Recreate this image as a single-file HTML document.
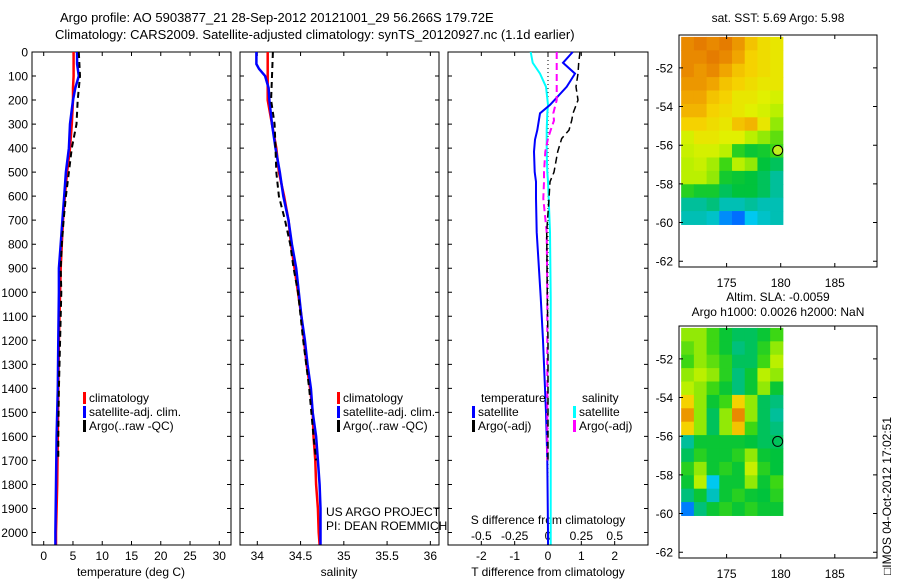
<!DOCTYPE html>
<html><head><meta charset="utf-8"><style>
body{margin:0;background:#fff;}
svg{display:block;font-family:"Liberation Sans",sans-serif;}
text{fill:#000;}
</style></head><body>
<svg id="chart" width="900" height="580" viewBox="0 0 900 580" xmlns="http://www.w3.org/2000/svg">
<text x="60" y="22" font-size="13">Argo profile: AO 5903877_21 28-Sep-2012 20121001_29 56.266S 179.72E</text>
<text x="55" y="39" font-size="13">Climatology: CARS2009. Satellite-adjusted climatology: synTS_20120927.nc (1.1d earlier)</text>
<text x="778" y="22" font-size="12" text-anchor="middle">sat. SST: 5.69 Argo: 5.98</text>
<text x="778" y="301" font-size="12" text-anchor="middle">Altim. SLA: -0.0059</text>
<text x="778" y="316" font-size="12" text-anchor="middle">Argo h1000: 0.0026 h2000: NaN</text>
<text transform="translate(891,575) rotate(-90)" font-size="12">□IMOS 04-Oct-2012 17:02:51</text>
<g id="g"></g>
</svg>
<script>
// depth levels (m)
const depT=[0,50,100,150,200,300,400,500,600,700,800,900,1000,1200,1400,1600,1800,2000,2050];
const tempClim=[5.1,5.1,5.1,5.0,5.0,4.8,4.5,4.0,3.6,3.3,3.1,2.9,2.8,2.6,2.5,2.4,2.3,2.1,2.1];
const tempSat=[5.7,5.7,6.0,5.4,5.0,4.5,4.3,3.8,3.5,3.2,2.9,2.6,2.6,2.5,2.4,2.2,2.1,2.0,2.0];
const depArgo=[0,100,200,300,400,500,600,700,800,900,1000,1200,1400,1600,1700];
const tempArgo=[6.0,6.2,5.8,5.6,4.8,4.3,3.8,3.4,3.1,2.9,3.0,2.8,2.6,2.5,2.5];
const depS=[0,50,70,100,150,200,300,400,500,600,700,800,900,1000,1100,1200,1300,1400,1500,1600,1700,1800,1900,2000,2050];
const salClim=[34.12,34.12,34.12,34.12,34.12,34.12,34.17,34.22,34.25,34.31,34.36,34.39,34.43,34.47,34.51,34.54,34.57,34.61,34.64,34.65,34.67,34.68,34.70,34.71,34.72];
const salSat=[33.99,33.99,34.02,34.09,34.13,34.14,34.17,34.21,34.26,34.30,34.36,34.40,34.45,34.48,34.51,34.55,34.58,34.62,34.64,34.68,34.70,34.72,34.73,34.73,34.73];
const salArgo=[34.18,34.17,34.16,34.20,34.21,34.22,34.25,34.32,34.38,34.42,34.47,34.53,34.60,34.65,34.68];
const depD=[0,45,90,145,220,255,325,365,415,500,540,610,750,1020,1200,1500,1700,2000,2050];
const dTsat=[0.74,0.45,0.81,0.56,0.06,-0.24,-0.32,-0.39,-0.42,-0.40,-0.36,-0.36,-0.34,-0.22,-0.15,-0.06,-0.02,0.0,0.0];
const dSsat=[-0.13,-0.115,-0.06,-0.015,0.0,-0.005,-0.01,-0.01,-0.01,-0.005,0.0,0.005,0.015,0.02,0.02,0.02,0.02,0.02,0.02];
const depDA=[0,45,90,145,200,255,285,325,360,415,500,540,610,750,1020,1200,1500,1700];
const dTargo=[0.96,0.92,0.9,0.84,0.9,0.75,0.71,0.63,0.41,0.29,0.18,0.06,0.03,-0.04,-0.02,0.0,0.0,0.0];
const dSargo=[0.065,0.065,0.065,0.065,0.065,0.04,0.045,0.02,0.0,-0.02,-0.03,-0.03,-0.035,-0.01,-0.005,-0.005,-0.005,-0.005];
const tempTicks=[0,5,10,15,20,25,30];
const salTicks=[34,34.5,35,35.5,36];
const tdTicks=[-2,-1,0,1,2];
const sdTicks=[-0.5,-0.25,0,0.25,0.5];
const sdLabels=["-0.5","-0.25","0","0.25","0.5"];
const depthTicks=[0,100,200,300,400,500,600,700,800,900,1000,1100,1200,1300,1400,1500,1600,1700,1800,1900,2000];
const latTicks=[-52,-54,-56,-58,-60,-62];
const lonTicks=[175,180,185];
const sstGrid=[
[.80,.82,.80,.82,.78,.72,.68,.66],[.80,.80,.82,.80,.76,.70,.68,.66],[.80,.78,.80,.76,.72,.70,.68,.66],
[.78,.78,.76,.72,.70,.68,.66,.66],[.76,.76,.72,.70,.66,.66,.64,.62],[.74,.74,.70,.68,.66,.64,.62,.58],
[.70,.70,.68,.66,.72,.74,.66,.55],[.62,.66,.66,.64,.64,.58,.55,.52],[.60,.62,.62,.58,.48,.45,.46,.50],
[.58,.60,.56,.50,.58,.55,.44,.42],[.58,.58,.55,.46,.45,.44,.42,.38],[.48,.46,.46,.42,.44,.44,.42,.38],
[.38,.38,.40,.36,.36,.38,.36,.36],[.36,.36,.34,.26,.24,.30,.34,.36]];
const slaGrid=[
[.55,.55,.50,.45,.42,.42,.45,.50],[.52,.55,.50,.45,.40,.42,.48,.55],[.50,.55,.52,.48,.42,.42,.50,.58],
[.55,.58,.55,.48,.40,.45,.58,.55],[.58,.55,.50,.45,.40,.45,.55,.45],[.70,.55,.45,.50,.70,.55,.42,.40],
[.78,.55,.42,.55,.80,.55,.42,.38],[.70,.55,.42,.55,.72,.50,.42,.40],[.38,.45,.45,.45,.45,.44,.42,.42],
[.42,.48,.45,.45,.48,.55,.45,.44],[.48,.55,.45,.48,.45,.60,.48,.44],[.45,.58,.30,.45,.45,.55,.45,.50],
[.40,.45,.35,.45,.48,.45,.44,.48],[.25,.40,.45,.48,.45,.48,.45,.45]];
const floatLon=179.72, floatLat=-56.27;

const NS="http://www.w3.org/2000/svg";
const G=document.getElementById('g');
function mk(tag,attrs,parent){const e=document.createElementNS(NS,tag);for(const k in attrs)e.setAttribute(k,attrs[k]);(parent||G).appendChild(e);return e;}
const TOP=52,BOT=545,DMAX=2052;
const yD=d=>TOP+(BOT-TOP)*d/DMAX;
const lin=(a,b,p,q)=>v=>p+(v-a)*(q-p)/(b-a);
const panels=[{x0:32,x1:231,sc:lin(-2,32,32,231)},{x0:240,x1:439,sc:lin(33.8,36.1,240,439)},{x0:448,x1:648,sc:lin(-3,3,448,648)}];
const sdSc=lin(-0.75,0.75,448,648);
panels.forEach((p,i)=>{
  const r=mk('rect',{x:p.x0,y:TOP,width:p.x1-p.x0,height:BOT-TOP,fill:'none',stroke:'#000','stroke-width':1});
  
  
  depthTicks.forEach(d=>{
    const t=mk('path',{d:`M${p.x0},${yD(d)}h4M${p.x1},${yD(d)}h-4`,stroke:'#000'});
    
    
  });
});
depthTicks.forEach(d=>{
  const t=mk('text',{x:28,y:yD(d)+4.5,'font-size':12,'text-anchor':'end'});t.textContent=d;
  
  
});
function xticks(p,ticks,labels,ly,sc){
  ticks.forEach((v,k)=>{
    const x=sc(v);
    const t=mk('path',{d:`M${x},${BOT}v-4M${x},${TOP}v4`,stroke:'#000'});
    
    
    if(labels){const l=mk('text',{x:x,y:ly,'font-size':12,'text-anchor':'middle'});l.textContent=labels[k];
    
    }
  });
}
xticks(panels[0],tempTicks,tempTicks.map(String),560,panels[0].sc);
xticks(panels[1],salTicks,salTicks.map(String),560,panels[1].sc);
xticks(panels[2],tdTicks,tdTicks.map(String),560,panels[2].sc);
sdTicks.forEach((v,k)=>{const l=mk('text',{x:sdSc(v),y:540,'font-size':12,'text-anchor':'middle'});l.textContent=sdLabels[k];
  
  });
[['temperature (deg C)',131,'temperature-axis-title'],['salinity',339,'salinity-axis-title'],['T difference from climatology',548,'t-diff-axis-title']].forEach(a=>{
  const l=mk('text',{x:a[1],y:576,'font-size':12,'text-anchor':'middle'});l.textContent=a[0];
  
  
});
const sdt=mk('text',{x:548,y:524,'font-size':12,'text-anchor':'middle'});sdt.textContent='S difference from climatology';


const zl=mk('path',{d:`M548,${TOP}V${BOT}`,stroke:'#000','stroke-dasharray':'1,3'});


function line(xs,ds,sc,color,name,dash,w){
  const pts=xs.map((v,k)=>sc(v).toFixed(1)+','+yD(ds[k]).toFixed(1)).join(' ');
  const a={points:pts,fill:'none',stroke:color,'stroke-width':w||2};if(dash)a['stroke-dasharray']=dash;
  const e=mk('polyline',a);
  
  
}
line(tempClim,depT,panels[0].sc,'#f00','temp-climatology-line',null,2.5);
line(tempSat,depT,panels[0].sc,'#00f','temp-satellite-line',null,2.5);
line(tempArgo,depArgo,panels[0].sc,'#000','temp-argo-line','6,4');
line(salClim,depS,panels[1].sc,'#f00','sal-climatology-line',null,2.5);
line(salSat,depS,panels[1].sc,'#00f','sal-satellite-line',null,2.5);
line(salArgo,depArgo,panels[1].sc,'#000','sal-argo-line','6,4');
line(dSsat,depD,sdSc,'#0ff','s-diff-satellite-line');
line(dTsat,depD,panels[2].sc,'#00f','t-diff-satellite-line');
line(dSargo,depDA,sdSc,'#f0f','s-diff-argo-line','7,4');
line(dTargo,depDA,panels[2].sc,'#000','t-diff-argo-line','7,4',1.5);
function legend(x,y,color,label,name){
  const b=mk('rect',{x:x,y:y-10,width:3,height:12,fill:color});
  
  
  const t=mk('text',{x:x+6,y:y,'font-size':12});t.textContent=label;
  
  
}
legend(83,402,'#f00','climatology','legend-climatology');
legend(83,416,'#00f','satellite-adj. clim.','legend-satellite-adj');
legend(83,430,'#000','Argo(..raw -QC)','legend-argo');
legend(337,402,'#f00','climatology','legend-sal-climatology');
legend(337,416,'#00f','satellite-adj. clim.','legend-sal-satellite-adj');
legend(337,430,'#000','Argo(..raw -QC)','legend-sal-argo');
const lt=mk('text',{x:481,y:402,'font-size':12});lt.textContent='temperature';


const ls=mk('text',{x:582,y:402,'font-size':12});ls.textContent='salinity';


legend(472,416,'#00f','satellite','legend-t-satellite');
legend(472,430,'#000','Argo(-adj)','legend-t-argo');
legend(573,416,'#0ff','satellite','legend-s-satellite');
legend(573,430,'#f0f','Argo(-adj)','legend-s-argo');
const us=mk('text',{x:326,y:516,'font-size':12});us.textContent='US ARGO PROJECT';


const pi=mk('text',{x:326,y:530,'font-size':12});pi.textContent='PI: DEAN ROEMMICH';



// custom colormap matching reference palette
const cmStops=[[0.15,[0,40,220]],[0.24,[0,110,255]],[0.30,[0,200,240]],[0.37,[0,190,170]],[0.44,[0,195,60]],[0.50,[60,215,20]],[0.57,[180,240,0]],[0.64,[225,240,0]],[0.70,[245,210,0]],[0.76,[240,165,0]],[0.84,[225,110,0]],[0.95,[200,60,0]]];
function cmap(v){
  if(v<=cmStops[0][0])return `rgb(${cmStops[0][1]})`;
  for(let i=1;i<cmStops.length;i++){
    if(v<=cmStops[i][0]){const a=cmStops[i-1],b=cmStops[i],t=(v-a[0])/(b[0]-a[0]);
      return 'rgb('+a[1].map((c,k)=>Math.round(c+(b[1][k]-c)*t)).join(',')+')';}
  }
  return `rgb(${cmStops[cmStops.length-1][1]})`;
}
function map(top,grid,name,fill){
  const X0=679,X1=877,Y1=top+232;
  const lx=lin(170.6,188.9,X0,X1), ly=lin(-50.3,-62.3,top,Y1);
  const gl0=170.8,gl1=180.2,ga0=-50.4,ga1=-60.1;
  const cw=(lx(gl1)-lx(gl0))/grid[0].length, ch=(ly(ga1)-ly(ga0))/grid.length;
  grid.forEach((row,i)=>row.forEach((v,j)=>{
    const c=mk('rect',{x:(lx(gl0)+j*cw).toFixed(2),y:(ly(ga0)+i*ch).toFixed(2),width:(cw+0.5).toFixed(2),height:(ch+0.5).toFixed(2),fill:cmap(v)});
    
    
  }));
  const f=mk('rect',{x:X0,y:top,width:X1-X0,height:232,fill:'none',stroke:'#000'});
  
  
  latTicks.forEach(a=>{
    const t=mk('path',{d:`M${X0},${ly(a)}h4M${X1},${ly(a)}h-4`,stroke:'#000'});
    
    
    const l=mk('text',{x:673,y:ly(a)+4.5,'font-size':12,'text-anchor':'end'});l.textContent=a;
    
    
  });
  lonTicks.forEach(o=>{
    const t=mk('path',{d:`M${lx(o)},${top}v4M${lx(o)},${Y1}v-4`,stroke:'#000'});
    
    
    const l=mk('text',{x:lx(o),y:Y1+20,'font-size':12,'text-anchor':'middle'});l.textContent=o;
    
    
  });
  const c=mk('circle',{cx:lx(floatLon),cy:ly(floatLat),r:5,fill:fill,stroke:'#000'});
  
  
}
map(35,sstGrid,'sst-map','#bfef1f');
map(326,slaGrid,'sla-map','none');
</script>
</body></html>
